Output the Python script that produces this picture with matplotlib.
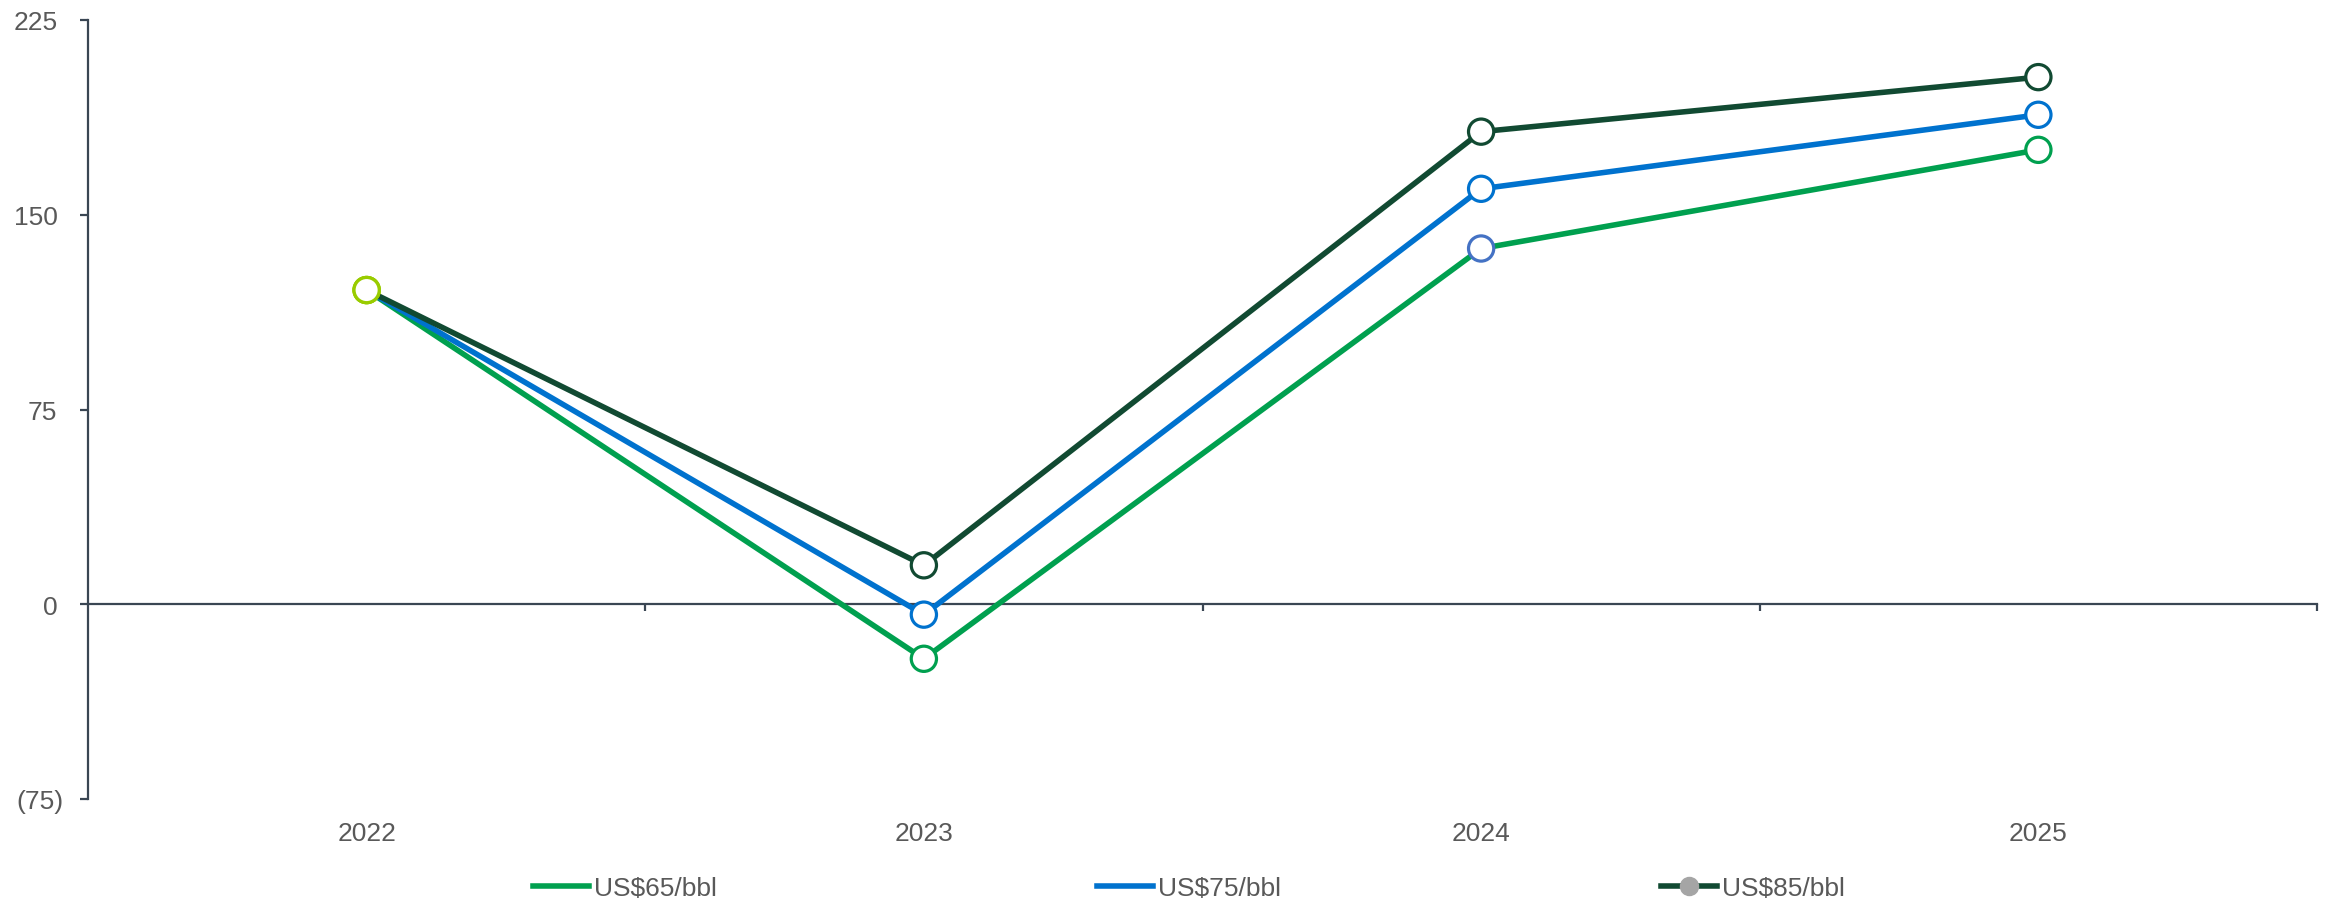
import numpy as np
import matplotlib
matplotlib.use("Agg")
import matplotlib.pyplot as plt
from matplotlib.lines import Line2D
from matplotlib.transforms import ScaledTranslation

plt.rcParams['font.family'] = ['Liberation Sans', 'DejaVu Sans']

# donnees
annees = ['2022', '2023', '2024', '2025']
us65 = [121, -21, 137, 175]
us75 = [121, -4, 160, 188.5]
us85 = [121, 15, 182, 203]
noms = ['US$65/bbl', 'US$75/bbl', 'US$85/bbl']
yticks = [-75, 0, 75, 150, 225]

vert = '#00A04F'
bleu = '#0072CE'
fonce = '#114A32'
citron = '#99CC00'
bleu_marq = '#4472C4'
gris_axe = '#3A4653'
gris_txt = '#595959'

# contours des marqueurs, point par point
bords = [
    [citron, vert, bleu_marq, vert],
    [citron, bleu, bleu, bleu],
    [citron, fonce, fonce, fonce],
]

fig = plt.figure(figsize=(23.28, 9.04), dpi=100)
ax = fig.add_axes([88/2328, 1-800/904, (2317-88)/2328, (800-21)/904])

x = np.arange(len(annees)) + 0.5
series = [us65, us75, us85]
couleurs = [vert, bleu, fonce]

for s, c in zip(series, couleurs):
    ax.plot(x, s, color=c, lw=4.0, solid_capstyle='butt', zorder=3)
for s, b in zip(series, bords):
    ax.scatter(x, s, s=330, facecolors='white', edgecolors=b, linewidths=2.3,
               zorder=4, clip_on=False)

ax.set_xlim(0, 4)
ax.set_ylim(-75, 225)

for sp in ['top', 'right', 'bottom']:
    ax.spines[sp].set_visible(False)
ax.spines['left'].set_color(gris_axe)
ax.spines['left'].set_linewidth(1.6)

ax.set_yticks(yticks)
ax.set_yticklabels([f'({abs(v)})' if v < 0 else f'{v}' for v in yticks])
ax.tick_params(axis='y', length=6, width=1.6, color=gris_axe, pad=16,
               labelsize=19, labelcolor=gris_txt)

ax.set_xticks(x)
ax.set_xticklabels(annees)
ax.tick_params(axis='x', length=0, pad=16, labelsize=19, labelcolor=gris_txt)

# les negatifs entre parentheses depassent a droite
for lab in ax.get_yticklabels():
    if lab.get_text().startswith('('):
        lab.set_transform(lab.get_transform() + ScaledTranslation(0.06, 0, fig.dpi_scale_trans))

# ligne du zero avec ses graduations
zero = ax.secondary_xaxis(75/300)
zero.set_xticks([1, 2, 3, 4])
zero.set_xticklabels([])
zero.spines['bottom'].set_color(gris_axe)
zero.spines['bottom'].set_linewidth(1.6)
zero.tick_params(axis='x', length=5, width=1.6, color=gris_axe, direction='out')

poignees = [
    Line2D([], [], color=vert, lw=4.0),
    Line2D([], [], color=bleu, lw=4.0),
    Line2D([], [], color=fonce, lw=4.0, marker='o', markersize=13,
           markerfacecolor='#A5A5A5', markeredgecolor='#A5A5A5'),
]
leg = fig.legend(poignees, noms, loc='center left', bbox_to_anchor=(533/2328, 15/904),
                 ncol=3, frameon=False, fontsize=19, handlelength=2.12,
                 handletextpad=0.19, columnspacing=14.4, borderpad=0, borderaxespad=0)
for t in leg.get_texts():
    t.set_color(gris_txt)

fig.savefig('out.png', dpi=100)
